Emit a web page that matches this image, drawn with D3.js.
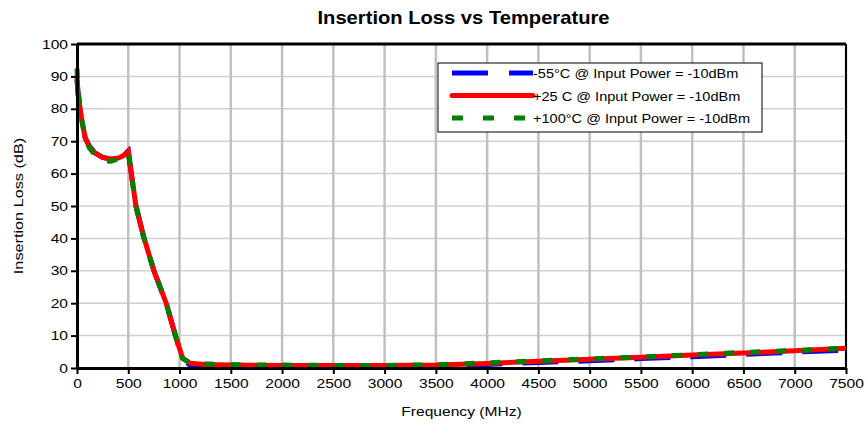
<!DOCTYPE html>
<html>
<head>
<meta charset="utf-8">
<script src="https://cdn.jsdelivr.net/npm/d3@7"></script>
<style>
  body { margin: 0; background: #fff; }
  text { font-family: Arial, "Liberation Sans", sans-serif; fill: #000; }
</style>
</head>
<body>
<div id="chart"></div>
<script>
// Frequency points (MHz)
const freq = [0, 10, 30, 50, 80, 120, 170, 250, 330, 400, 450, 500, 525, 575, 650, 750, 870, 960, 1030, 1100, 1250, 1500, 2000, 2500, 3000, 3500, 4000, 4500, 5000, 5500, 6000, 6500, 7000, 7500];

// Insertion loss (dB) for each temperature
const lossM55 = [89, 84.5, 79.5, 75.5, 71, 68.5, 66.5, 65, 64.5, 64.8, 65.5, 67, 61, 50, 40.5, 30, 20, 10, 2.5, 1, 0.8, 0.7, 0.6, 0.6, 0.6, 0.7, 1.1, 1.7, 2.2, 2.9, 3.5, 4.2, 4.9, 5.5];
const loss25 = [89.5, 85, 80, 76, 71, 68.5, 66.5, 65, 64.5, 64.8, 65.5, 67, 61, 50, 40.5, 30, 20, 10, 3, 1.5, 1.1, 0.9, 0.8, 0.8, 0.8, 0.9, 1.4, 2.1, 2.7, 3.3, 4.0, 4.6, 5.3, 6.1];
const loss100 = [92.5, 86, 80.5, 76, 71, 68, 66, 64, 63.8, 64.5, 65.5, 66.5, 61, 50, 40.5, 30, 20, 10, 3, 1.6, 1.3, 1.0, 0.9, 0.8, 0.8, 1.0, 1.6, 2.2, 2.8, 3.4, 4.1, 4.8, 5.4, 6.1];

const seriesNames = ["-55°C @ Input Power = -10dBm", "+25 C @ Input Power = -10dBm", "+100°C @ Input Power = -10dBm"];
const xTicks = d3.range(0, 7501, 500);
const yTicks = d3.range(0, 101, 10);

const W = 866, H = 430;
const margin = { top: 44, right: 20, bottom: 62, left: 77 };
const width = W - margin.left - margin.right;
const height = H - margin.top - margin.bottom;

// the original text is a bit wider than plain Arial
const stretch = 1.2;

const svg = d3.select("#chart").append("svg")
  .attr("width", W)
  .attr("height", H);

const g = svg.append("g")
  .attr("transform", "translate(" + margin.left + "," + margin.top + ")");

const x = d3.scaleLinear().domain([0, 7500]).range([0, width]);
const y = d3.scaleLinear().domain([0, 100]).range([height, 0]);

// horizontal grid
g.append("g").selectAll("line")
  .data(yTicks.slice(1))
  .join("line")
  .attr("x1", 0).attr("x2", width)
  .attr("y1", d => y(d)).attr("y2", d => y(d))
  .attr("stroke", "#d0d0d0")
  .attr("stroke-width", 1.5);

// vertical grid
g.append("g").selectAll("line")
  .data(xTicks.slice(1))
  .join("line")
  .attr("x1", d => x(d)).attr("x2", d => x(d))
  .attr("y1", 0).attr("y2", height)
  .attr("stroke", "#c0c0c0")
  .attr("stroke-width", 2.5);

// top and right frame
g.append("line").attr("x1", 0).attr("x2", width).attr("y1", 0).attr("y2", 0)
  .attr("stroke", "#000").attr("stroke-width", 3);
g.append("line").attr("x1", width).attr("x2", width).attr("y1", 0).attr("y2", height)
  .attr("stroke", "#000").attr("stroke-width", 2);

// lines
const series = [
  { vals: lossM55, color: "#0000ff", dash: "36,20" },
  { vals: loss25, color: "#ff0000", dash: null },
  { vals: loss100, color: "#008000", dash: "10,16" }
];

const line = d3.line()
  .x((d, i) => x(freq[i]))
  .y(d => y(d));

series.forEach(s => {
  g.append("path")
    .datum(s.vals)
    .attr("d", line)
    .attr("fill", "none")
    .attr("stroke", s.color)
    .attr("stroke-width", 5)
    .attr("stroke-dasharray", s.dash);
});

// axes
const xAxis = g.append("g")
  .attr("transform", "translate(0," + height + ")")
  .call(d3.axisBottom(x).tickValues(xTicks).tickFormat(d3.format("d")).tickSize(6).tickSizeOuter(0));
const yAxis = g.append("g")
  .call(d3.axisLeft(y).tickValues(yTicks).tickSize(6).tickSizeOuter(0));

[xAxis, yAxis].forEach(a => {
  a.select(".domain").attr("stroke", "#000").attr("stroke-width", 3);
  a.selectAll(".tick line").attr("stroke", "#000").attr("stroke-width", 2);
  a.selectAll(".tick text")
    .style("font-family", "Arial, 'Liberation Sans', sans-serif")
    .style("font-size", "13px");
});
xAxis.selectAll(".tick text")
  .attr("y", 0).attr("dy", 0)
  .attr("transform", "translate(0,20) scale(" + stretch + ",1)");
yAxis.selectAll(".tick text")
  .attr("x", 0)
  .attr("transform", "translate(-9,0) scale(" + stretch + ",1)");

// title
svg.append("text")
  .attr("transform", "translate(" + (margin.left + width / 2 + 2) + ",24) scale(1.12,1)")
  .attr("text-anchor", "middle")
  .style("font-size", "18px")
  .style("font-weight", "bold")
  .text("Insertion Loss vs Temperature");

// axis labels
svg.append("text")
  .attr("transform", "translate(" + (margin.left + width / 2) + ",416) scale(" + stretch + ",1)")
  .attr("text-anchor", "middle")
  .style("font-size", "13px")
  .text("Frequency (MHz)");

svg.append("text")
  .attr("transform", "translate(23," + (margin.top + height / 2) + ") rotate(-90) scale(1.25,1)")
  .attr("text-anchor", "middle")
  .style("font-size", "13px")
  .text("Insertion Loss (dB)");

// legend
const legend = svg.append("g").attr("transform", "translate(438,63)");
legend.append("rect")
  .attr("width", 324).attr("height", 69)
  .attr("fill", "#fff")
  .attr("stroke", "#000")
  .attr("stroke-width", 1);

series.forEach((s, i) => {
  const ly = 10 + i * 22.5;
  legend.append("line")
    .attr("x1", 14).attr("x2", 95)
    .attr("y1", ly).attr("y2", ly)
    .attr("stroke", s.color)
    .attr("stroke-width", 5)
    .attr("stroke-linecap", s.dash ? "butt" : "round")
    .attr("stroke-dasharray", s.dash ? (i === 0 ? "36,21" : "11,20") : null);
  legend.append("text")
    .attr("transform", "translate(95," + (ly + 5) + ") scale(1.12,1)")
    .style("font-size", "13px")
    .text(seriesNames[i]);
});
</script>
</body>
</html>
